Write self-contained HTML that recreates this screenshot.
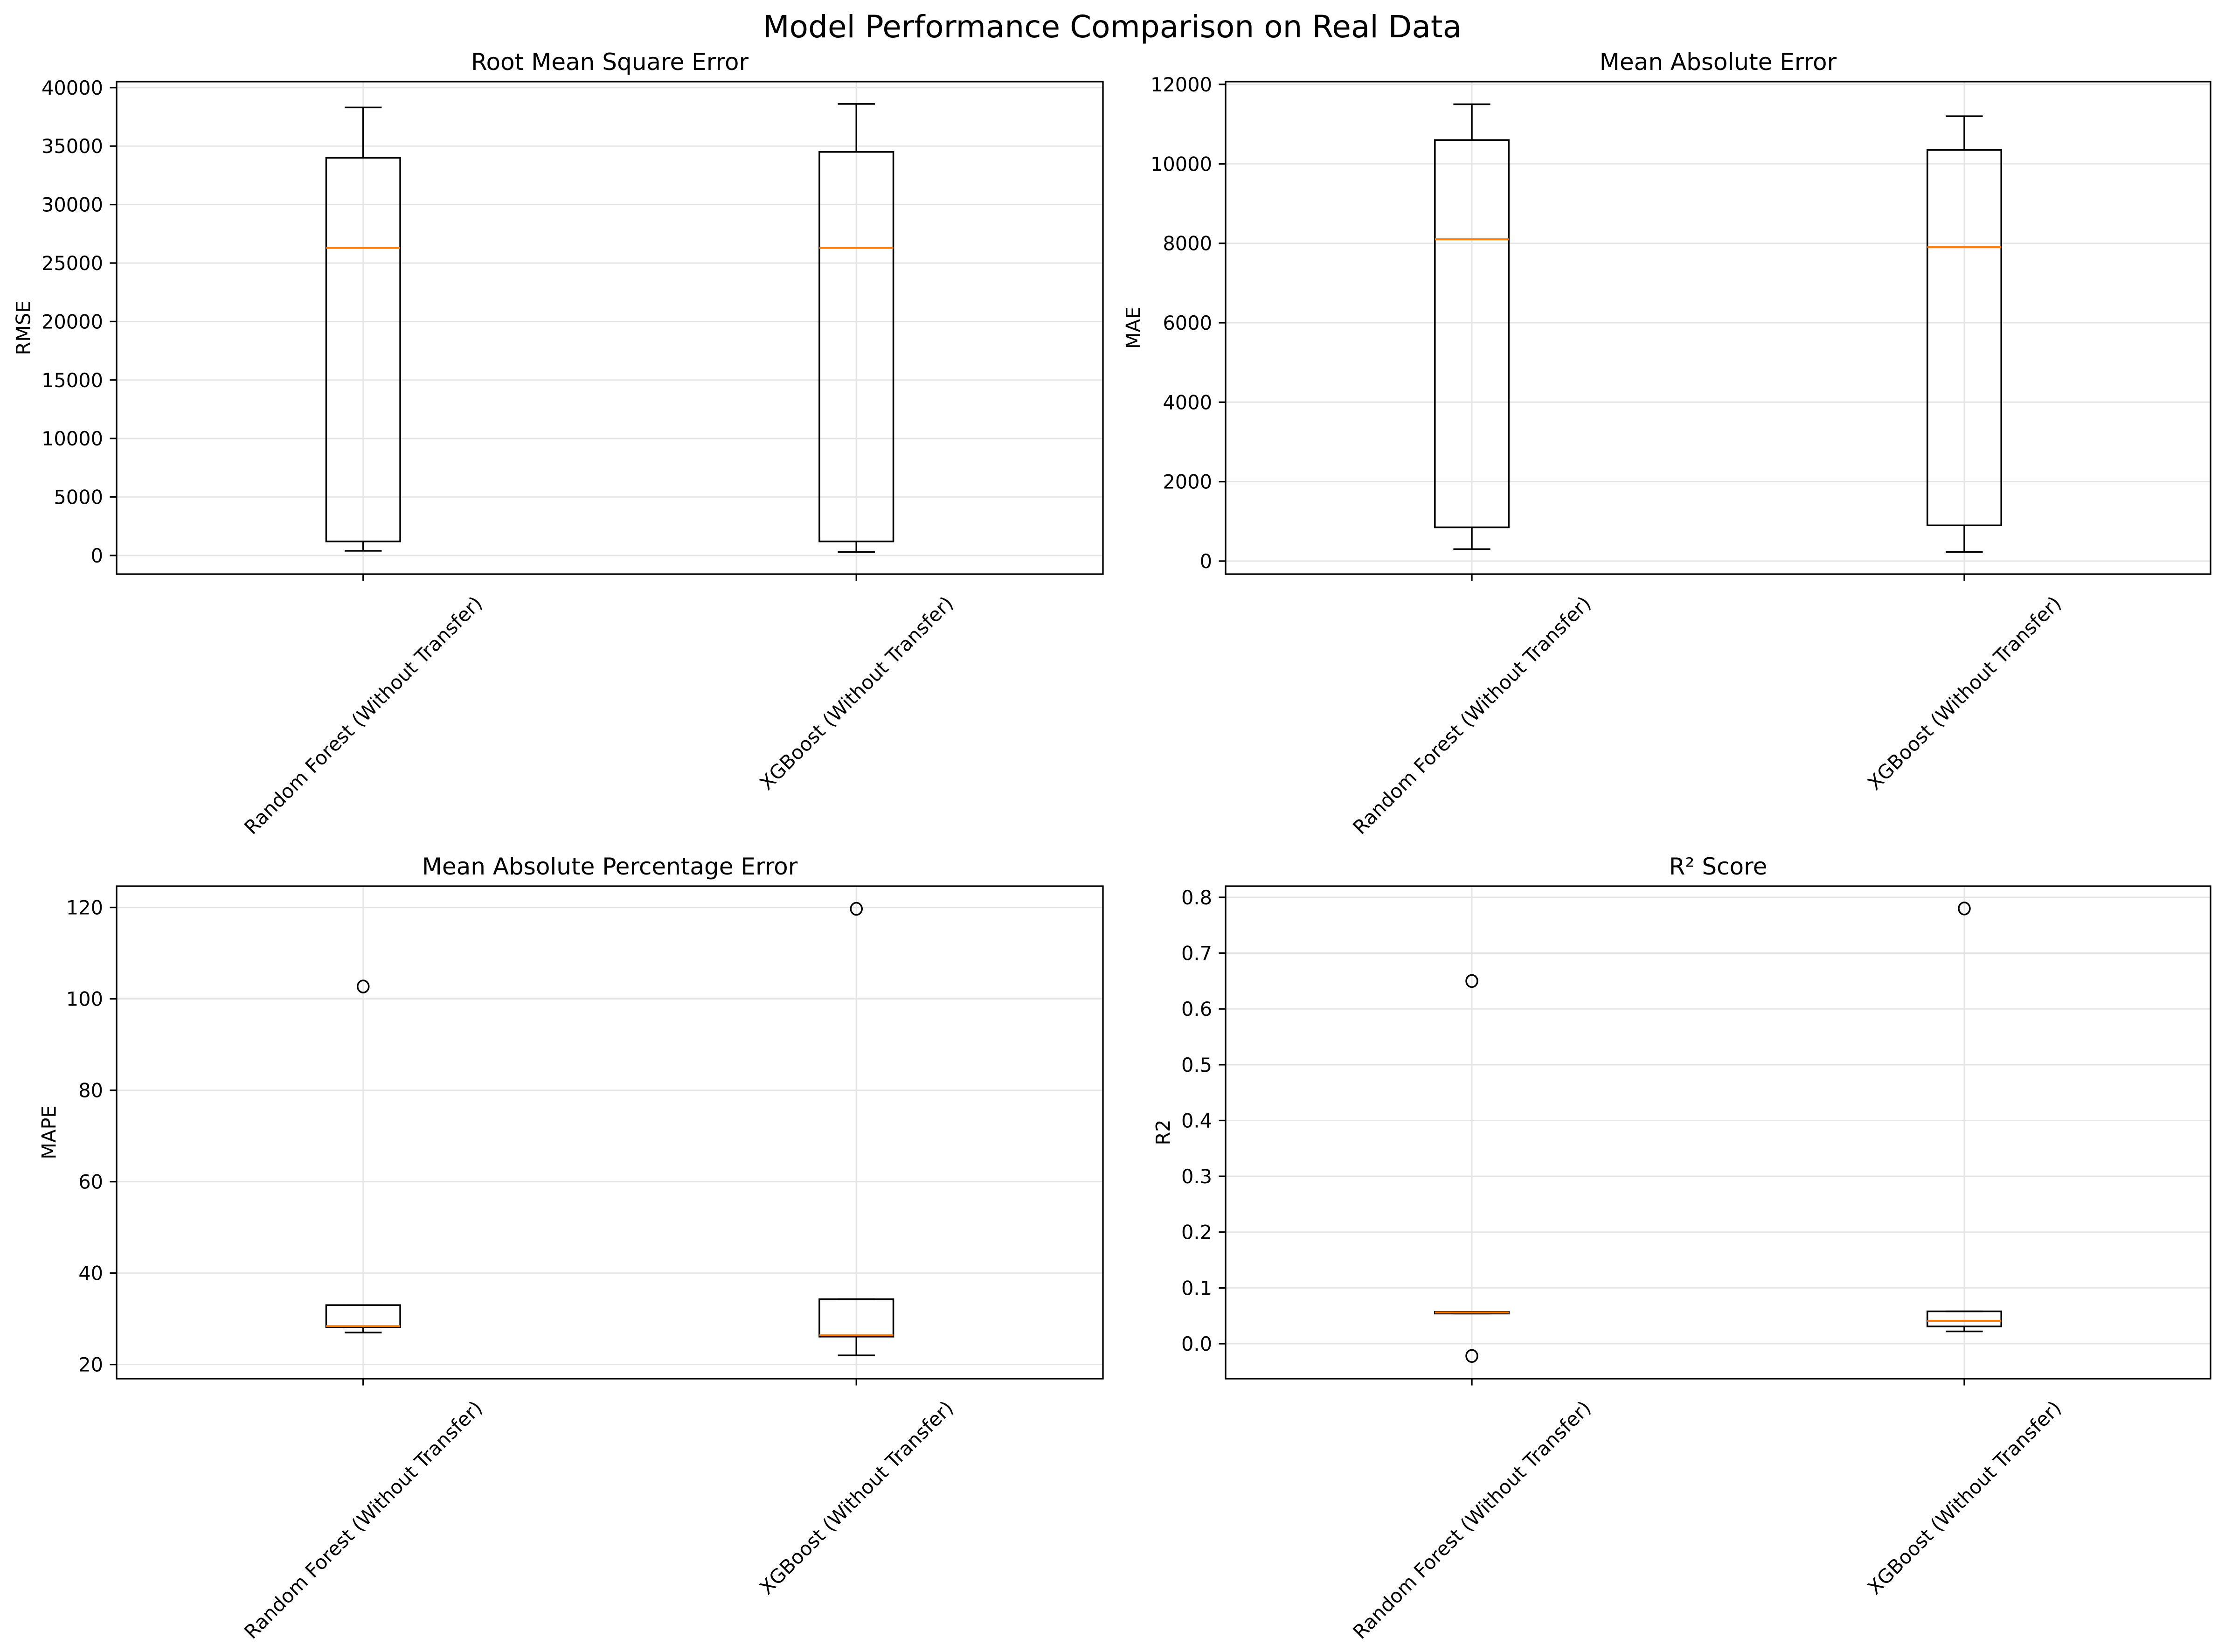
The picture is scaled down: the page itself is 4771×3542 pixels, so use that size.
<!DOCTYPE html>
<html><head><meta charset="utf-8"><style>
html,body{margin:0;padding:0;background:#fff;}
svg{display:block;font-family:"DejaVu Sans","Liberation Sans",sans-serif;}
</style></head><body>
<svg id="fig" width="4771" height="3542" viewBox="0 0 4771 3542" xmlns="http://www.w3.org/2000/svg">
<rect width="4771" height="3542" fill="#fff"/>
<text x="2385" y="80" font-size="66" text-anchor="middle">Model Performance Comparison on Real Data</text>
</svg>
<script>
const categories = ["Random Forest (Without Transfer)", "XGBoost (Without Transfer)"];
// box stats: [whiskerLow, q1, median, q3, whiskerHigh]
const rmseStats = [[400, 1200, 26300, 34000, 38300], [300, 1200, 26300, 34500, 38600]];
const rmseOutliers = [[], []];
const maeStats = [[300, 850, 8100, 10600, 11500], [230, 900, 7900, 10350, 11200]];
const maeOutliers = [[], []];
const mapeStats = [[27, 28.2, 28.4, 33, 33], [22, 26.1, 26.4, 34.3, 34.3]];
const mapeOutliers = [[102.7], [119.7]];
const r2Stats = [[0.054, 0.054, 0.056, 0.057, 0.057], [0.022, 0.031, 0.041, 0.058, 0.058]];
const r2Outliers = [[0.65, -0.022], [0.78]];
const rmseTicks = [0, 5000, 10000, 15000, 20000, 25000, 30000, 35000, 40000];
const maeTicks = [0, 2000, 4000, 6000, 8000, 10000, 12000];
const mapeTicks = [20, 40, 60, 80, 100, 120];
const r2Ticks = [0.0, 0.1, 0.2, 0.3, 0.4, 0.5, 0.6, 0.7, 0.8];

const NS = "http://www.w3.org/2000/svg";
const svg = document.getElementById("fig");
function mk(tag, attrs, parent) {
  const e = document.createElementNS(NS, tag);
  for (const k in attrs) e.setAttribute(k, attrs[k]);
  (parent || svg).appendChild(e);
  return e;
}

function panel(cfg) {
  const {L, T, R, B, ymin, ymax, ticks, fmt, stats, outliers, title, ylabel, ylabelOff, key} = cfg;
  const g = mk("g", {});
  
  
  const xs = v => L + (v - 0.5) / 2 * (R - L);
  const ys = v => B - (v - ymin) / (ymax - ymin) * (B - T);
  // grid
  ticks.forEach(t => {
    const y = ys(t);
    const gl = mk("line", {x1: L, x2: R, y1: y, y2: y, stroke: "#e5e5e5", "stroke-width": 3}, g);
    
    
  });
  categories.forEach((c, i) => {
    const x = xs(i + 1);
    const gl = mk("line", {x1: x, x2: x, y1: T, y2: B, stroke: "#e5e5e5", "stroke-width": 3}, g);
    
    
  });
  // boxes
  const bw = 0.15 * (R - L) / 2;
  stats.forEach((s, i) => {
    const cx = xs(i + 1);
    const bg = mk("g", {stroke: "#000", "stroke-width": 3.5, fill: "none"}, g);
    
    
    mk("line", {x1: cx, x2: cx, y1: ys(s[1]), y2: ys(s[0])}, bg);
    mk("line", {x1: cx, x2: cx, y1: ys(s[3]), y2: ys(s[4])}, bg);
    mk("line", {x1: cx - bw / 4, x2: cx + bw / 4, y1: ys(s[0]), y2: ys(s[0])}, bg);
    mk("line", {x1: cx - bw / 4, x2: cx + bw / 4, y1: ys(s[4]), y2: ys(s[4])}, bg);
    mk("rect", {x: cx - bw / 2, y: ys(s[3]), width: bw, height: Math.max(0.1, ys(s[1]) - ys(s[3]))}, bg);
    const med = mk("line", {x1: cx - bw / 2, x2: cx + bw / 2, y1: ys(s[2]), y2: ys(s[2]), stroke: "#ff7f0e", "stroke-width": 4.2}, g);
    
    
    outliers[i].forEach(v => {
      const o = mk("ellipse", {cx: cx, cy: ys(v), rx: 12, ry: 13, fill: "none", stroke: "#000", "stroke-width": 3.5}, g);
      
      
    });
  });
  // spines
  const fr = mk("rect", {x: L, y: T, width: R - L, height: B - T, fill: "none", stroke: "#000", "stroke-width": 3.3}, g);
  
  
  // y ticks
  ticks.forEach(t => {
    const y = ys(t);
    mk("line", {x1: L - 14.5, x2: L, y1: y, y2: y, stroke: "#000", "stroke-width": 3.3}, g);
    const tl = mk("text", {x: L - 29, y: y + 15, "font-size": 41.5, "text-anchor": "end"}, g);
    tl.textContent = fmt(t);
    
    
  });
  // x ticks + labels
  categories.forEach((c, i) => {
    const x = xs(i + 1);
    mk("line", {x1: x, x2: x, y1: B, y2: B + 14.5, stroke: "#000", "stroke-width": 3.3}, g);
    const tl = mk("text", {x: 0, y: 0, "font-size": 41.5, "text-anchor": "middle", "dominant-baseline": "central"}, g);
    tl.textContent = c;
    
    
    const len = tl.getComputedTextLength();
    const h = 48;
    const bh = (len + h) * Math.SQRT1_2;
    const cy = B + 38 + bh / 2;
    tl.setAttribute("transform", `translate(${x},${cy}) rotate(-45)`);
  });
  const tt = mk("text", {x: (L + R) / 2, y: T - 25, "font-size": 50, "text-anchor": "middle"}, g);
  tt.textContent = title;
  
  
  const yl = mk("text", {x: 0, y: 0, "font-size": 41.5, "text-anchor": "middle", "dominant-baseline": "central",
    transform: `translate(${L - ylabelOff},${(T + B) / 2}) rotate(-90)`}, g);
  yl.textContent = ylabel;
  
  
}

panel({key: "rmse", L: 250, T: 175, R: 2365, B: 1231, ymin: -1595, ymax: 40510, ticks: rmseTicks,
  fmt: t => String(t), stats: rmseStats, outliers: rmseOutliers, title: "Root Mean Square Error", ylabel: "RMSE", ylabelOff: 200});
panel({key: "mae", L: 2628, T: 175, R: 4740, B: 1231, ymin: -329, ymax: 12070, ticks: maeTicks,
  fmt: t => String(t), stats: maeStats, outliers: maeOutliers, title: "Mean Absolute Error", ylabel: "MAE", ylabelOff: 198});
panel({key: "mape", L: 250, T: 1900, R: 2365, B: 2956, ymin: 16.9, ymax: 124.65, ticks: mapeTicks,
  fmt: t => String(t), stats: mapeStats, outliers: mapeOutliers, title: "Mean Absolute Percentage Error", ylabel: "MAPE", ylabelOff: 145});
panel({key: "r2", L: 2628, T: 1900, R: 4740, B: 2956, ymin: -0.0627, ymax: 0.82, ticks: r2Ticks,
  fmt: t => t.toFixed(1), stats: r2Stats, outliers: r2Outliers, title: "R² Score", ylabel: "R2", ylabelOff: 134});
</script>
</body></html>
